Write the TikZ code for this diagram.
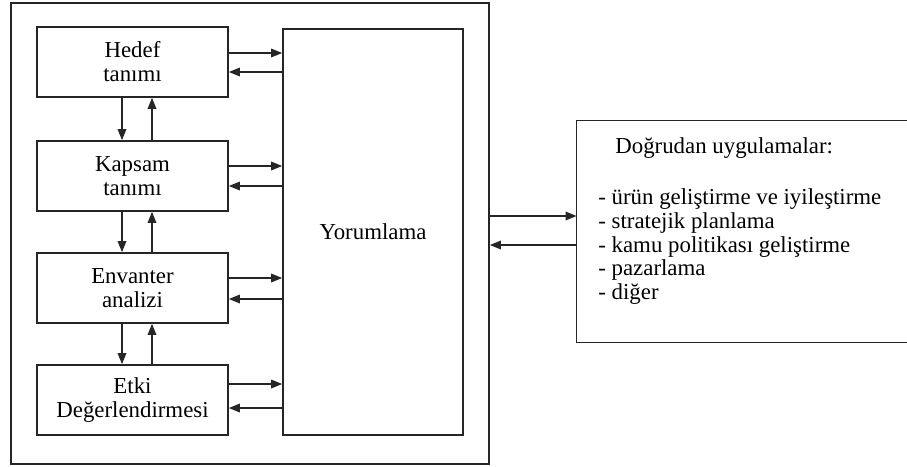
\documentclass[tikz,border=0pt]{standalone}
\usepackage{fontspec}
\setmainfont{Liberation Serif}
\usetikzlibrary{arrows.meta}

\begin{document}
\begin{tikzpicture}[
  font=\fontsize{13}{13.6}\selectfont,
  frm/.style={draw=black!85, line width=0.9pt, inner sep=0pt},
  box/.style={frm, minimum width=3.82cm, minimum height=1.40cm, align=center},
  ar/.style={-{Triangle[length=2.2mm, width=1.7mm]}, line width=0.9pt, draw=black!85}
]
\useasboundingbox (0,0) rectangle (18.14,-9.32);

% ================= outer frame and interpretation =================
\node[frm, minimum width=9.56cm, minimum height=9.22cm] (frame) at (5.00,-4.67) {};
\node[frm, minimum width=3.60cm, minimum height=8.12cm] (yor) at (7.46,-4.64) {Yorumlama};

% ================= LEFT: phases =================
\node[box] (hedef)  at (2.65,-1.24) {Hedef\\tanımı};
\node[box] (kapsam) at (2.65,-3.52) {Kapsam\\tanımı};
\node[box] (env)    at (2.65,-5.76) {Envanter\\analizi};
\node[box] (etki)   at (2.65,-8.00) {Etki\\Değerlendirmesi};

\foreach \a/\b in {hedef/kapsam, kapsam/env, env/etki} {
  \draw[ar] ([xshift=-0.21cm]\a.south) -- ([xshift=-0.21cm]\b.north);
  \draw[ar] ([xshift=0.39cm]\b.north) -- ([xshift=0.39cm]\a.south);
}

\foreach \n/\u/\d in {hedef/0.18/-0.20, kapsam/0.20/-0.20, env/0.20/-0.22, etki/0.32/-0.16} {
  \draw[ar] ([yshift=\u cm]\n.east) -- ([yshift=\u cm]\n.east -| yor.west);
  \draw[ar] ([yshift=\d cm]\n.east -| yor.west) -- ([yshift=\d cm]\n.east);
}

% ================= RIGHT: applications (cut off at the right) =================
\node[minimum width=6.60cm, minimum height=4.42cm, inner sep=0pt] (apps) at (14.84,-4.63) {};
\draw[black!85, line width=0.9pt] (apps.north east) -- (apps.north west)
  -- (apps.south west) -- (apps.south east);
\node[anchor=base west, inner sep=0pt] (appsttl) at (12.30,-3.06) {Doğrudan uygulamalar:};
\node[anchor=north west, inner sep=0pt, align=left] (appslist) at (11.96,-3.76)
  {- ürün geliştirme ve iyileştirme\\
   - stratejik planlama\\
   - kamu politikası geliştirme\\
   - pazarlama\\
   - diğer};

\draw[ar] ([yshift=0.31cm]apps.west -| frame.east) -- ([yshift=0.31cm]apps.west);
\draw[ar] ([yshift=-0.27cm]apps.west) -- ([yshift=-0.27cm]apps.west -| frame.east);

\end{tikzpicture}
\end{document}
